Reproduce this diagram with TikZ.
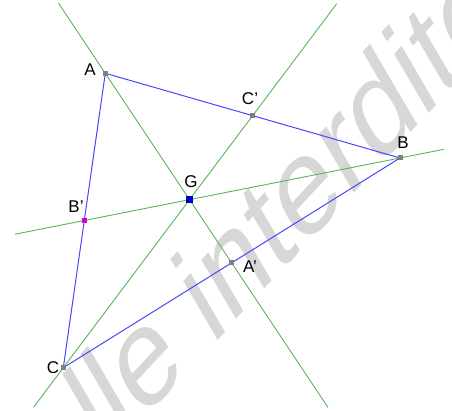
\documentclass[tikz,border=0pt]{standalone}
\usepackage{fontspec}
\setmainfont{Liberation Sans}
\usetikzlibrary{calc}
\definecolor{triblue}{RGB}{70,70,255}
\definecolor{medgreen}{RGB}{90,180,90}
\definecolor{ptgray}{RGB}{128,128,128}
\definecolor{ptmag}{RGB}{210,0,200}
\definecolor{gblue}{RGB}{0,0,200}
\definecolor{wmgray}{RGB}{215,215,215}
\tikzset{
  tri/.style={triblue, line width=1pt},
  median/.style={medgreen, line width=0.9pt},
  pt/.style={fill=ptgray, draw=none, minimum size=5pt, inner sep=0pt, rectangle},
  ptb/.style={pt, fill=ptmag},
  ptg/.style={pt, fill=gblue, minimum size=7pt},
  lab/.style={font=\fontsize{17}{17}\selectfont, text=black, inner sep=0pt},
  wm/.style={font=\fontsize{124}{124}\selectfont, text=wmgray, inner sep=0pt}
}
\begin{document}
\begin{tikzpicture}[x=1pt, y=-1pt]
\useasboundingbox (0,0) rectangle (452,411);
\node[wm, rotate=47, xslant=0.3, anchor=base west] (wm) at (104,462) {lle interdite};
\coordinate (A) at (105.3,73.3);
\coordinate (B) at (400,158);
\coordinate (C) at (63.3,367.7);
\coordinate (Cp) at ($(A)!0.5!(B)$);
\coordinate (Bp) at ($(A)!0.5!(C)$);
\coordinate (Ap) at ($(B)!0.5!(C)$);
\coordinate (G) at ($(A)!2/3!(Ap)$);
\coordinate (a1) at ($(A)!-0.3696!(Ap)$);
\coordinate (a2) at ($(A)!1.7635!(Ap)$);
\coordinate (c1) at ($(C)!1.4437!(Cp)$);
\coordinate (c2) at ($(C)!-0.1569!(Cp)$);
\coordinate (b1) at ($(B)!-0.1384!(Bp)$);
\coordinate (b2) at ($(B)!1.2195!(Bp)$);
\draw[median] (a1) -- (a2);
\draw[median] (c1) -- (c2);
\draw[median] (b1) -- (b2);
\draw[tri] (A) -- (B) -- (C) -- cycle;
\node[pt] (nA) at (A) {};
\node[pt] (nB) at (B) {};
\node[pt] (nC) at (C) {};
\node[pt] (nCp) at (Cp) {};
\node[pt] (nAp) at (Ap) {};
\node[ptb] (nBp) at (Bp) {};
\node[ptg] (nG) at (G) {};
\node[lab] (lA) at (90,70) {A};
\node[lab] (lB) at (403,143) {B};
\node[lab] (lC) at (53,368) {C};
\node[lab] (lCp) at (250,99) {C'};
\node[lab] (lBp) at (76,207) {B'};
\node[lab] (lAp) at (250,267) {A'};
\node[lab] (lG) at (191,182) {G};
\end{tikzpicture}
\end{document}
